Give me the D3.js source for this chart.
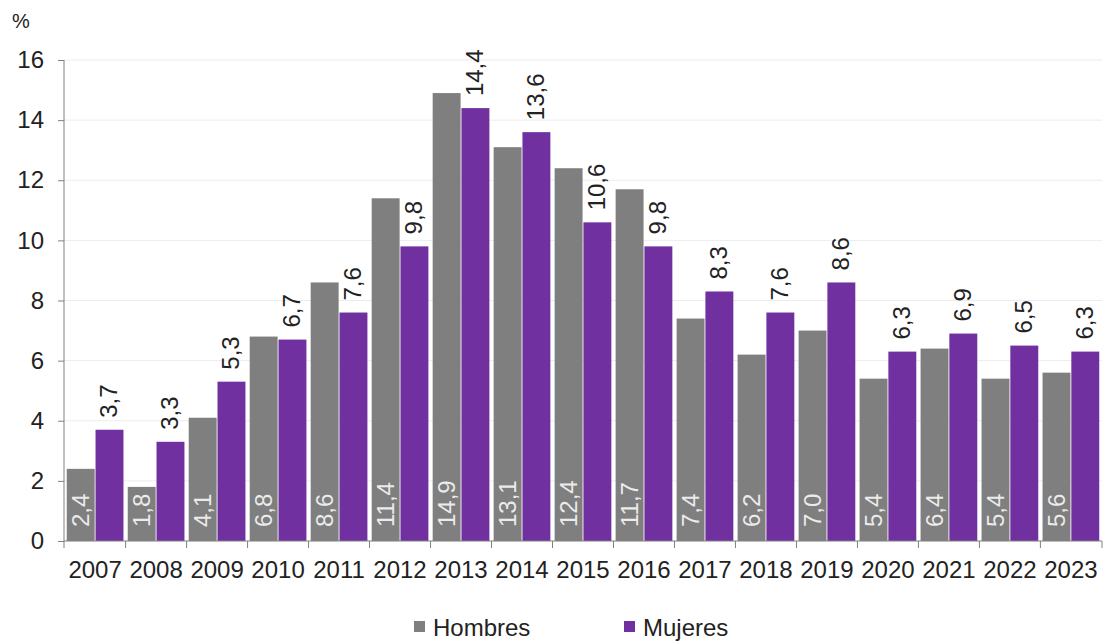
<!DOCTYPE html>
<html><head><meta charset="utf-8">
<script src="https://cdn.jsdelivr.net/npm/d3@7"></script>
<style>
html,body{margin:0;padding:0;background:#fff;}
text{font-family:"Liberation Sans",Arial,sans-serif;}
</style></head>
<body>
<svg id="c" width="1104" height="643"></svg>
<script>
const years = ["2007","2008","2009","2010","2011","2012","2013","2014","2015","2016","2017","2018","2019","2020","2021","2022","2023"];
const hombres = [2.4,1.8,4.1,6.8,8.6,11.4,14.9,13.1,12.4,11.7,7.4,6.2,7.0,5.4,6.4,5.4,5.6];
const mujeres = [3.7,3.3,5.3,6.7,7.6,9.8,14.4,13.6,10.6,9.8,8.3,7.6,8.6,6.3,6.9,6.5,6.3];
const yTicks = [0,2,4,6,8,10,12,14,16];
const seriesNames = ["Hombres","Mujeres"];
const colors = ["#7f7f7f","#7030a0"];

const svg = d3.select("#c");
const mL = 64, mR = 1102, mT = 60, mB = 541;
const x0 = d3.scaleBand().domain(years).range([mL,mR]).paddingInner(0.07).paddingOuter(0.045);
const x1 = d3.scaleBand().domain(seriesNames).range([0,x0.bandwidth()]).paddingInner(0.03);
const y = d3.scaleLinear().domain([0,16]).range([mB,mT]);
const fmt = v => v.toFixed(1).replace(".",",");

// gridlines
svg.append("g").selectAll("line").data(yTicks.filter(d=>d>0)).join("line")
  .attr("x1",mL).attr("x2",mR).attr("y1",d=>y(d)).attr("y2",d=>y(d))
  .attr("stroke","#ececec").attr("stroke-width",1);

const data = years.map((yr,i)=>({yr, vals:[hombres[i],mujeres[i]]}));
const g = svg.append("g").selectAll("g").data(data).join("g")
  .attr("transform",d=>`translate(${x0(d.yr)},0)`);
g.selectAll("rect").data(d=>d.vals.map((v,j)=>({v,j}))).join("rect")
  .attr("x",d=>x1(seriesNames[d.j])).attr("width",x1.bandwidth())
  .attr("y",d=>y(d.v)).attr("height",d=>y(0)-y(d.v))
  .attr("fill",d=>colors[d.j]);

// labels
g.each(function(d){
  const gg = d3.select(this);
  const cxH = x1("Hombres")+x1.bandwidth()/2;
  const cxM = x1("Mujeres")+x1.bandwidth()/2;
  gg.append("text").attr("transform",`translate(${cxH+8},${mB-14}) rotate(-90)`)
    .attr("text-anchor","start").attr("font-size",24).attr("fill","#ffffff").attr("fill-opacity",0.85)
    .text(fmt(d.vals[0]));
  gg.append("text").attr("transform",`translate(${cxM+8},${y(d.vals[1])-12}) rotate(-90)`)
    .attr("text-anchor","start").attr("font-size",24).attr("fill","#222")
    .text(fmt(d.vals[1]));
});

// y axis
const yAxis = d3.axisLeft(y).tickValues(yTicks).tickSize(6).tickPadding(14).tickFormat(d3.format("d"));
const ya = svg.append("g").attr("transform",`translate(${mL},0)`).call(yAxis);
ya.select(".domain").attr("stroke","#808080").attr("d",`M0,${mT}V${mB}`);
ya.selectAll(".tick line").attr("stroke","#808080");
ya.selectAll(".tick text").attr("font-size",24).attr("fill","#222").attr("font-family","Liberation Sans, Arial, sans-serif");

// x axis
const xa = svg.append("g").attr("transform",`translate(0,${mB})`);
xa.append("line").attr("x1",mL).attr("x2",mR).attr("stroke","#808080");
const bounds = years.map(yr=>x0(yr)-x0.step()*x0.paddingInner()/2).concat([mR]);
bounds[0]=mL;
xa.selectAll("line.tk").data(bounds).join("line").attr("class","tk")
  .attr("x1",d=>d).attr("x2",d=>d).attr("y1",0).attr("y2",7).attr("stroke","#808080");
xa.selectAll("text").data(years).join("text")
  .attr("x",d=>x0(d)+x0.bandwidth()/2).attr("y",37)
  .attr("text-anchor","middle").attr("font-size",24).attr("fill","#222").text(d=>d);

// % label
svg.append("text").attr("x",12).attr("y",28).attr("font-size",20).attr("fill","#222").text("%");

// legend
const legendX = [414,624];
seriesNames.forEach((n,i)=>{
  svg.append("rect").attr("x",legendX[i]).attr("y",621).attr("width",11).attr("height",11).attr("fill",colors[i]);
  svg.append("text").attr("x",legendX[i]+19).attr("y",636).attr("font-size",24).attr("fill","#222").text(n);
});
</script>
</body></html>
